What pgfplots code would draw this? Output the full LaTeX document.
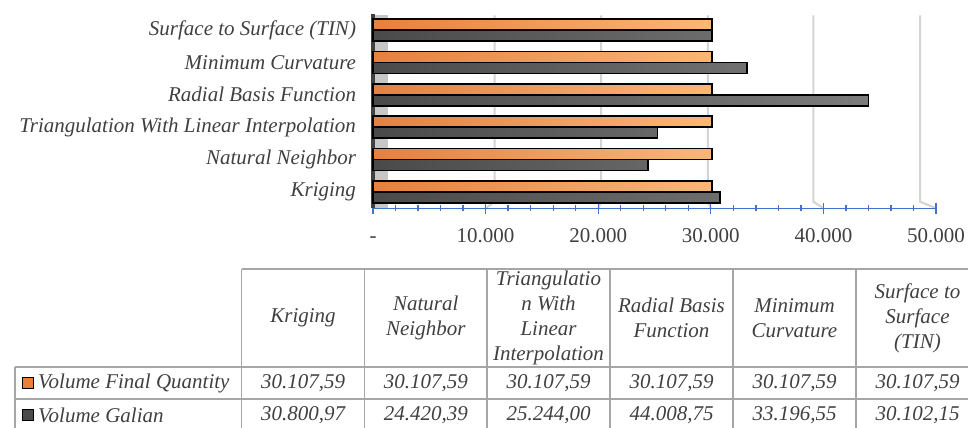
\documentclass[border=0pt]{standalone}
\usepackage{fontspec}
\setmainfont{Liberation Serif}
\usepackage{pgfplots}
\pgfplotsset{compat=1.18}
\definecolor{txt}{HTML}{404040}
\definecolor{orL}{HTML}{E8803C}
\definecolor{orR}{HTML}{F8B877}
\definecolor{gyL}{HTML}{4A4A4A}
\definecolor{gyR}{HTML}{7C7C7C}
\definecolor{axblue}{HTML}{4472C4}
\definecolor{gridc}{HTML}{D4D4D4}
\definecolor{tbl}{HTML}{A6A6A6}
\newcommand{\tf}{\fontsize{21bp}{25bp}\selectfont}
\begin{document}
\begin{tikzpicture}[x=1bp,y=1bp]
\coordinate (A) at (373,-208.2);
\begin{axis}[
  set layers,
  at={(A)}, anchor=south west, scale only axis,
  width=563bp, height=194.4bp,
  xmin=0, xmax=50000, ymin=-0.5, ymax=5.5,
  xbar, bar width=11bp,
  axis x line*=bottom, axis y line*=left,
  x axis line style={axblue, line width=1.3bp, -},
  y axis line style={black!75, line width=3.5bp, -},
  xtick={0,10000,20000,30000,40000,50000},
  xticklabels={-,10.000,20.000,30.000,40.000,50.000},
  scaled x ticks=false,
  minor x tick num=4,
  tick align=center,
  major tick length=11bp, minor tick length=6bp,
  x tick style={axblue, line width=1.3bp},
  ytick={0,1,2,3,4,5},
  yticklabels={Kriging,Natural Neighbor,Triangulation With Linear Interpolation,Radial Basis Function,Minimum Curvature,Surface to Surface (TIN)},
  y tick style={draw=none},
  yticklabel style={font=\tf\itshape, text=txt, xshift=-8bp},
  xticklabel style={font=\tf, text=txt, yshift=-11bp, text height=14bp, text depth=0bp},
  clip=false,
]
\begin{pgfonlayer}{axis background}
\fill[black!22] (axis cs:0,-0.5) rectangle (axis cs:1300,5.45);
\draw[gridc, line width=2bp] (axis cs:10800,5.45) -- (axis cs:10800,-0.3) -- (axis cs:10000,-0.5);
\draw[gridc, line width=2bp] (axis cs:20270,5.45) -- (axis cs:20270,-0.3) -- (axis cs:20000,-0.5);
\draw[gridc, line width=2bp] (axis cs:29730,5.45) -- (axis cs:29730,-0.3) -- (axis cs:30000,-0.5);
\draw[gridc, line width=2bp] (axis cs:39110,5.45) -- (axis cs:39110,-0.3) -- (axis cs:40000,-0.5);
\draw[gridc, line width=2bp] (axis cs:48580,5.45) -- (axis cs:48580,-0.3) -- (axis cs:50000,-0.5);
\end{pgfonlayer}
\addplot[bar shift=5.5bp, draw=black, line width=1.5bp, left color=orL, right color=orR]
  coordinates {(30107.59,0) (30107.59,1) (30107.59,2) (30107.59,3) (30107.59,4) (30107.59,5)};
\addplot[bar shift=-5.5bp, draw=black, line width=1.5bp, left color=gyL, right color=gyR]
  coordinates {(30800.97,0) (24420.39,1) (25244.00,2) (44008.75,3) (33196.55,4) (30102.15,5)};
\end{axis}
% data table
\begin{scope}[tbl, line width=1.3bp]
\draw (241.7,-269) -- (979,-269);
\draw (15,-367) -- (979,-367);
\draw (15,-399) -- (979,-399);
\draw (15,-431) -- (979,-431);
\draw (15,-367) -- (15,-431);
\foreach \xx in {241.7,364.5,487,610,733,856,979} {\draw (\xx,-269) -- (\xx,-431);}
\end{scope}
\begin{scope}[every node/.style={font=\tf\itshape, text=txt, align=center, inner sep=0pt}]
\node at (303,-318) {Kriging};
\node at (425.8,-318) {Natural\\Neighbor};
\node at (548.5,-318) {Triangulatio\\n With\\Linear\\Interpolation};
\node at (671.5,-318) {Radial Basis\\Function};
\node at (794.5,-318) {Minimum\\Curvature};
\node at (917.5,-318) {Surface to\\Surface\\(TIN)};
\foreach \cx in {303,425.8,548.5,671.5,794.5,917.5} {\node at (\cx,-383) {30.107,59};}
\node at (303,-415) {30.800,97};
\node at (425.8,-415) {24.420,39};
\node at (548.5,-415) {25.244,00};
\node at (671.5,-415) {44.008,75};
\node at (794.5,-415) {33.196,55};
\node at (917.5,-415) {30.102,15};
\node[anchor=west] at (38,-383) {Volume Final Quantity};
\node[anchor=west] at (38,-415) {Volume Galian};
\end{scope}
\filldraw[fill=orL, draw=black, line width=1bp] (22,-377.5) rectangle (33,-388.5);
\filldraw[fill=gyL, draw=black, line width=1bp] (22,-409.5) rectangle (33,-420.5);
\pgfresetboundingbox
\useasboundingbox (0,0) rectangle (968,-427);
\end{tikzpicture}
\end{document}
